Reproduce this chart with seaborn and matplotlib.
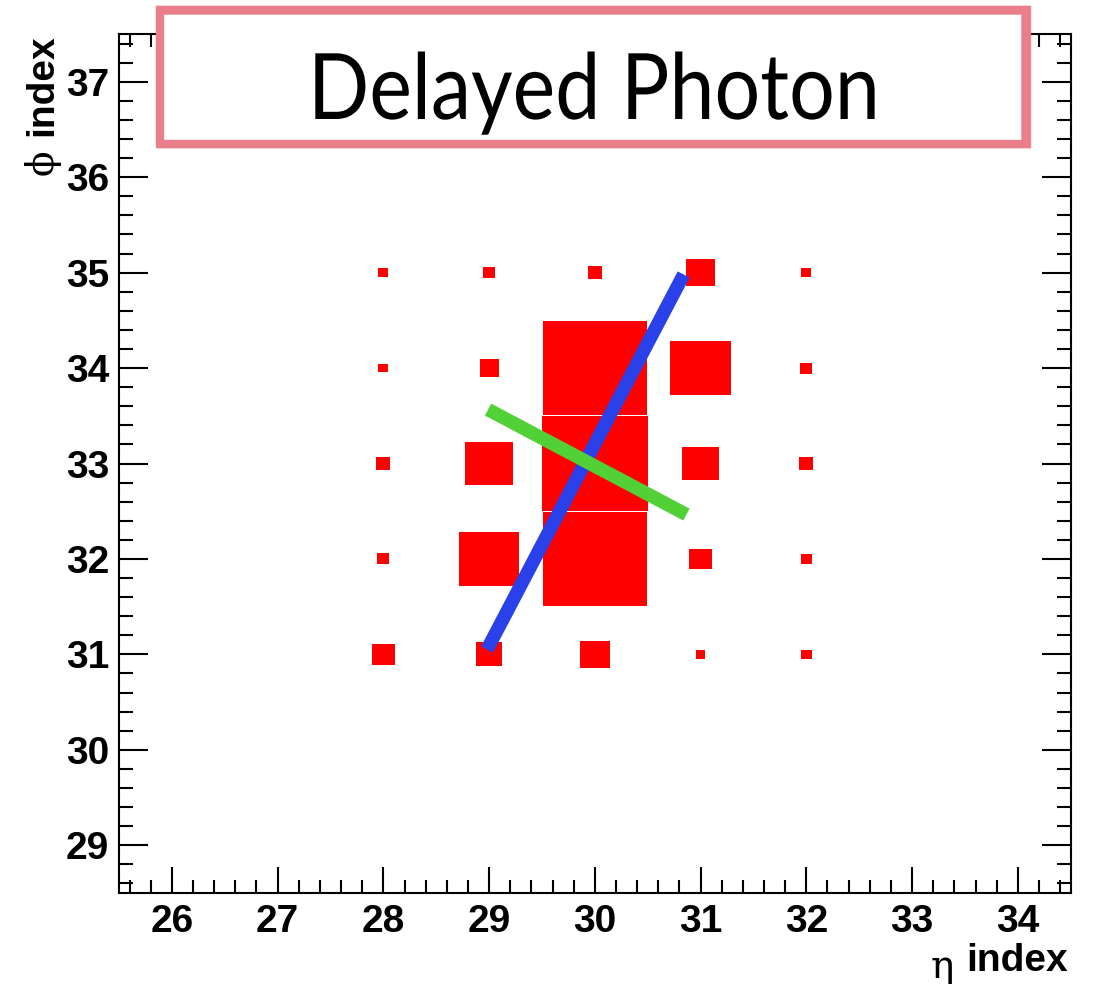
import numpy as np
import pandas as pd
import matplotlib
matplotlib.use("Agg")
import matplotlib.pyplot as plt
from matplotlib.patches import Rectangle
from matplotlib.ticker import MultipleLocator
from matplotlib.transforms import Affine2D
from matplotlib import patheffects
import seaborn as sns

# Calorimeter cells: eta index, phi index and relative deposited energy
eta_cells = [28, 29, 30, 31, 32]
phi_cells = [35, 34, 33, 32, 31]
# rows follow phi_cells, columns follow eta_cells
cell_energy = [
    [0.095, 0.11, 0.13, 0.28, 0.097],
    [0.093, 0.18, 0.98, 0.57, 0.115],
    [0.135, 0.45, 1.00, 0.35, 0.135],
    [0.115, 0.565, 0.98, 0.21, 0.10],
    [0.215, 0.25, 0.28, 0.09, 0.10],
]

# Shower axes from the cluster moments
major_axis_eta = [28.98, 30.84]
major_axis_phi = [31.05, 34.98]
minor_axis_eta = [28.99, 30.866]
minor_axis_phi = [33.565, 32.465]

x_ticks = [26, 27, 28, 29, 30, 31, 32, 33, 34]
y_ticks = [29, 30, 31, 32, 33, 34, 35, 36, 37]

title = "Delayed Photon"
x_label = "index"
x_symbol = "η"
y_label = "index"
y_symbol = "ϕ"

sns.set_theme(style="ticks")
plt.rcParams["font.family"] = ["Liberation Sans", "DejaVu Sans"]

W, H = 1102, 984
fig = plt.figure(figsize=(W / 100, H / 100), dpi=100)
ax = fig.add_axes([119 / W, 1 - 893 / H, (1070.7 - 119) / W, (893 - 34) / H])

# Box drawing: each cell is a rectangle scaled by its energy fraction
emax = max(max(r) for r in cell_energy)
for phi, row in zip(phi_cells, cell_energy):
    for eta, e in zip(eta_cells, row):
        f = e / emax
        ax.bar(eta, f, width=f, bottom=phi - f / 2, color="#ff0000",
               linewidth=0, zorder=2)

major_df = pd.DataFrame({"eta": major_axis_eta, "phi": major_axis_phi})
minor_df = pd.DataFrame({"eta": minor_axis_eta, "phi": minor_axis_phi})
sns.lineplot(data=major_df, x="eta", y="phi", sort=False, estimator=None,
             color="#2a40e8", linewidth=9.7, solid_capstyle="butt", ax=ax, zorder=3)
sns.lineplot(data=minor_df, x="eta", y="phi", sort=False, estimator=None,
             color="#52d136", linewidth=9.7, solid_capstyle="butt", ax=ax, zorder=4)

ax.set_xlim(25.5, 34.5)
ax.set_ylim(28.5, 37.5)
ax.set_xlabel("")
ax.set_ylabel("")
ax.set_xticks(x_ticks)
ax.set_yticks(y_ticks)
ax.set_xticklabels([str(t) for t in x_ticks])
ax.set_yticklabels([str(t) for t in y_ticks])
ax.xaxis.set_minor_locator(MultipleLocator(0.2))
ax.yaxis.set_minor_locator(MultipleLocator(0.2))
for s in ax.spines.values():
    s.set_visible(True)
    s.set_linewidth(1.5)
    s.set_color("black")
ax.tick_params(axis="both", which="both", direction="in", top=True, right=True,
               width=1.5, color="black")
ax.tick_params(axis="x", which="major", length=18.5, pad=8)
ax.tick_params(axis="x", which="minor", length=9.2)
ax.tick_params(axis="y", which="major", length=21, pad=7)
ax.tick_params(axis="y", which="minor", length=10.3)
for lab in ax.get_xticklabels() + ax.get_yticklabels():
    lab.set_fontsize(28)
    lab.set_fontweight("bold")
    lab.set_color("black")

serif = ["DejaVu Serif", "Liberation Serif"]

# x axis title
xl = fig.text(1068 / W, 1 - 971 / H, x_label, ha="right", va="baseline",
              fontsize=28, fontweight="bold", color="black")
ax.annotate(x_symbol, xy=(0, 0), xycoords=xl, xytext=(-9, 1),
            textcoords="offset points", ha="right", va="baseline",
            fontsize=28, family=serif, color="black", annotation_clip=False)

# y axis title
yl = fig.text(52 / W, 1 - 34 / H, y_label, rotation=90, rotation_mode="anchor",
              ha="right", va="baseline", fontsize=28, fontweight="bold",
              color="black")
ax.annotate(y_symbol, xy=(0.5, 0), xycoords=yl, xytext=(0, -10),
            textcoords="offset points", ha="center", va="top", rotation=90,
            fontsize=27, family=serif, color="black", annotation_clip=False)


# Title panel with a hand-drawn style border
def fx(px):
    return px / W


def fy(py):
    return 1 - py / H


class NarrowText(patheffects.AbstractPathEffect):
    """Horizontally condense glyph outlines about a fixed x position."""

    def __init__(self, sx, cx):
        super().__init__()
        self._sx = sx
        self._cx = cx

    def draw_path(self, renderer, gc, tpath, affine, rgbFace=None):
        squeeze = Affine2D().translate(-self._cx, 0).scale(self._sx, 1).translate(self._cx, 0)
        renderer.draw_path(gc, tpath, affine + squeeze, rgbFace)


panel = Rectangle((fx(160), fy(144)), fx(1026) - fx(160), fy(10) - fy(144),
                  transform=fig.transFigure, facecolor="white", edgecolor="none",
                  zorder=10)
fig.add_artist(panel)
pink = "#ea7f8b"
strokes = [
    (160, 10, 1026, 144, 6.0, 1.0),
    (158, 7, 1029, 146, 2.5, 0.8),
    (162, 13, 1022, 141, 2.0, 0.7),
    (157, 9, 1030, 147, 1.5, 0.6),
]
for x0, y0, x1, y1, lw, a in strokes:
    fig.add_artist(Rectangle((fx(x0), fy(y1)), fx(x1) - fx(x0), fy(y0) - fy(y1),
                             transform=fig.transFigure, facecolor="none",
                             edgecolor=pink, linewidth=lw, alpha=a,
                             joinstyle="miter", zorder=11))
fig.text(fx(594), fy(119), title, ha="center", va="baseline", fontsize=66,
         family=["Lato", "DejaVu Sans"], color="black", zorder=12,
         path_effects=[NarrowText(0.88, 594)])

fig.savefig("out.png", dpi=100, facecolor="white")
